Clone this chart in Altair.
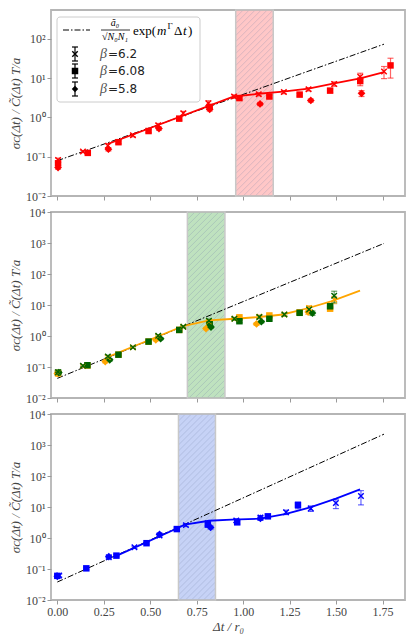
import altair as alt
import pandas as pd
import numpy as np

# ------------------------------------------------------------------ data
X_TICKS = [0.0, 0.25, 0.5, 0.75, 1.0, 1.25, 1.5, 1.75]
BETAS = ["β=6.2", "β=6.08", "β=5.8"]

# ---- panel 1 (red)
p1_b62_x = [0.004, 0.138, 0.272, 0.407, 0.543, 0.678, 0.813, 0.951, 1.084, 1.219, 1.352, 1.490, 1.630, 1.758]
p1_b62_y = [0.082, 0.135, 0.19, 0.35, 0.63, 1.27, 2.3, 3.4, 3.9, 4.4, 5.2, 7.1, 10.8, 14.7]
p1_b62_e = [0.01, 0.008, 0.025, 0.03, 0.07, 0.15, 0.35, 0.35, 0.35, 0.4, 0.5, 0.9, 2.5, 5.0]
p1_b608_x = [0.004, 0.164, 0.329, 0.491, 0.656, 0.820, 0.980, 1.141, 1.304, 1.468, 1.630, 1.793]
p1_b608_y = [0.068, 0.125, 0.234, 0.45, 0.93, 1.85, 3.1, 3.4, 3.8, 4.8, 8.4, 21.0]
p1_b608_e = [0.008, 0.01, 0.02, 0.04, 0.08, 0.2, 0.3, 0.3, 0.3, 0.5, 2.0, 11.0]
p1_b58_x = [0.004, 0.275, 0.547, 0.820, 1.091, 1.364, 1.637]
p1_b58_y = [0.053, 0.155, 0.52, 1.6, 2.2, 2.7, 4.1]
p1_b58_e = [0.005, 0.015, 0.05, 0.15, 0.2, 0.25, 0.7]
p1_fit_x = [0.272, 0.950, 1.084, 1.214, 1.352, 1.490, 1.630, 1.758]
p1_fit_y = [0.21, 3.4, 4.0, 4.5, 5.4, 7.3, 9.8, 14.2]
p1_exp_x = [0.0, 1.758]
p1_exp_y = [0.079, 73.0]
p1_band = [0.96, 1.162]

# ---- panel 2 (orange / green)
p2_b62_x = [0.004, 0.138, 0.272, 0.407, 0.543, 0.678, 0.816, 0.953, 1.087, 1.222, 1.355, 1.490]
p2_b62_yo = [0.067, 0.108, 0.21, 0.43, 1.0, 2.0, 3.0, 3.6, 4.2, 4.9, 8.0, 15.0]
p2_b62_eo = [0.006, 0.008, 0.02, 0.03, 0.08, 0.15, 0.4, 0.35, 0.5, 0.5, 1.5, 4.0]
p2_b62_yg = [0.068, 0.11, 0.22, 0.43, 1.02, 2.0, 3.1, 3.6, 4.1, 4.9, 7.2, 19.8]
p2_b62_eg = [0.006, 0.008, 0.02, 0.03, 0.08, 0.15, 0.4, 0.35, 0.5, 0.5, 1.5, 8.0]
p2_b608_x = [0.004, 0.162, 0.329, 0.491, 0.656, 0.820, 0.980, 1.141, 1.304, 1.468]
p2_b608_yo = [0.062, 0.112, 0.25, 0.66, 1.57, 2.6, 4.0, 4.6, 5.8, 7.6]
p2_b608_yg = [0.066, 0.114, 0.25, 0.66, 1.57, 2.4, 3.0, 3.6, 5.6, 9.1]
p2_b608_e = [0.005, 0.01, 0.02, 0.05, 0.12, 0.25, 0.3, 0.35, 0.5, 1.0]
p2_b58_xo = [0.000, 0.258, 0.530, 0.800, 1.072, 1.350]
p2_b58_yo = [0.062, 0.15, 0.75, 1.74, 2.45, 5.9]
p2_b58_xg = [0.008, 0.282, 0.556, 0.827, 1.098, 1.373]
p2_b58_yg = [0.066, 0.17, 0.82, 1.95, 2.9, 5.5]
p2_b58_e = [0.005, 0.015, 0.06, 0.15, 0.25, 0.9]
p2_fit_x = [0.271, 0.678, 0.816, 0.955, 1.087, 1.214, 1.352, 1.473, 1.629]
p2_fit_y = [0.21, 2.1, 3.2, 3.6, 4.1, 4.94, 8.0, 13.0, 29.0]
p2_exp_x = [0.0, 1.758]
p2_exp_y = [0.043, 970.0]
p2_band = [0.70, 0.902]

# ---- panel 3 (blue)
p3_b62_x = [0.010, 0.277, 0.415, 0.550, 0.692, 0.810, 0.963, 1.093, 1.231, 1.364, 1.499, 1.634]
p3_b62_y = [0.062, 0.24, 0.50, 1.2, 2.6, 3.0, 3.7, 4.6, 6.8, 9.0, 13.4, 22.7]
p3_b62_e = [0.006, 0.02, 0.04, 0.12, 0.25, 0.4, 0.5, 0.7, 1.1, 1.8, 4.5, 11.0]
p3_b608_x = [0.000, 0.156, 0.318, 0.480, 0.643, 0.810, 0.968, 1.133, 1.295]
p3_b608_y = [0.060, 0.105, 0.27, 0.68, 1.94, 2.7, 3.2, 5.0, 11.6]
p3_b608_e = [0.005, 0.01, 0.02, 0.05, 0.15, 0.35, 0.4, 0.5, 2.8]
p3_b58_x = [0.000, 0.277, 0.550, 0.825, 1.093]
p3_b58_y = [0.058, 0.25, 1.3, 2.2, 4.3]
p3_b58_e = [0.005, 0.02, 0.12, 0.25, 0.6]
p3_fit_x = [0.315, 0.643, 0.686, 0.816, 0.937, 1.093, 1.231, 1.361, 1.499, 1.629]
p3_fit_y = [0.26, 2.03, 2.7, 3.6, 3.9, 4.2, 6.0, 9.8, 18.7, 37.0]
p3_exp_x = [0.0, 1.758]
p3_exp_y = [0.038, 2240.0]
p3_band = [0.652, 0.851]

# ------------------------------------------------------------------ style
W, H = 354, 186
XDOM = [-0.034, 1.871]
SERIF = "Liberation Serif"
YTITLE = "σᴄ(Δt) / C̃(Δt) T/a"
XPATH = "M-1,-1L1,1M-1,1L1,-1"


def series(xs, ys, es, beta, col):
    return pd.DataFrame({
        "x": xs, "y": ys,
        "lo": [y - e for y, e in zip(ys, es)],
        "hi": [y + e for y, e in zip(ys, es)],
        "beta": beta, "col": col,
    })


def panel(pts, fit_x, fit_y, exp_x, exp_y, band, band_col, fit_col, ymax, bottom, legend=False):
    xs = alt.Scale(domain=XDOM, nice=False, zero=False)
    ys = alt.Scale(type="log", domain=[0.01, ymax], nice=False)
    ytick = [10.0 ** k for k in range(-2, int(np.floor(np.log10(ymax) + 1e-9)) + 1)]
    xax = alt.Axis(values=X_TICKS, format=".2f", labels=bottom, grid=False,
                   title="Δt / r₀" if bottom else None)
    yax = alt.Axis(values=ytick, grid=False, title=YTITLE,
                   labelExpr="'10' + ['⁻²','⁻¹','⁰','¹','²','³','⁴'][round(log(datum.value)/LN10)+2]")

    def X(f):
        return alt.X(f, type="quantitative", scale=xs, axis=xax)

    def Y(f):
        return alt.Y(f, type="quantitative", scale=ys, axis=yax)

    # band + hatching
    bdf = pd.DataFrame({"x0": [band[0]], "x1": [band[1]], "y0": [0.01], "y1": [ymax]})
    band_l = alt.Chart(bdf).mark_rect(color=band_col, opacity=0.3).encode(
        x=X("x0"), x2="x1", y=Y("y0"), y2="y1")
    edge_l = alt.Chart(bdf).mark_rect(fill=None, stroke="#c8c8c8", strokeWidth=1.5).encode(
        x=X("x0"), x2="x1", y=Y("y0"), y2="y1")
    ppx = W / (XDOM[1] - XDOM[0])
    ppd = H / (np.log10(ymax) + 2)
    rise = (band[1] - band[0]) * ppx / ppd
    starts = np.arange(-2 - rise, np.log10(ymax), 6.0 / ppd)
    hdf = pd.DataFrame({"hx0": band[0], "hx1": band[1],
                        "hy0": 10 ** starts, "hy1": 10 ** (starts + rise)})
    hatch_l = alt.Chart(hdf).mark_rule(clip=True, color="#7788aa", opacity=0.35, strokeWidth=0.8).encode(
        x=X("hx0"), x2="hx1", y=Y("hy0"), y2="hy1")

    edf = pd.DataFrame({"x": exp_x, "y": exp_y})
    exp_l = alt.Chart(edf).mark_line(color="black", strokeWidth=1, strokeDash=[6, 2, 1.5, 2]).encode(
        x=X("x"), y=Y("y"))
    fdf = pd.DataFrame({"x": fit_x, "y": fit_y})
    fit_l = alt.Chart(fdf).mark_line(color=fit_col, strokeWidth=1.8).encode(x=X("x"), y=Y("y"))

    col = alt.Color("col:N", scale=None)
    base = alt.Chart(pts)
    err_l = base.mark_rule(strokeWidth=1.2, opacity=0.6).encode(x=X("x"), y=Y("lo"), y2="hi", color=col)
    cap_lo = base.mark_tick(orient="horizontal", size=6, thickness=1.2, opacity=0.6).encode(
        x=X("x"), y=Y("lo"), color=col)
    cap_hi = base.mark_tick(orient="horizontal", size=6, thickness=1.2, opacity=0.6).encode(
        x=X("x"), y=Y("hi"), color=col)
    pt_x = base.transform_filter(alt.datum.beta == BETAS[0]).mark_point(
        shape=XPATH, filled=False, size=30, strokeWidth=1.4, opacity=1).encode(x=X("x"), y=Y("y"), color=col)
    pt_s = base.transform_filter(alt.datum.beta == BETAS[1]).mark_point(
        shape="square", filled=True, size=42, opacity=1).encode(x=X("x"), y=Y("y"), color=col)
    pt_d = base.transform_filter(alt.datum.beta == BETAS[2]).mark_point(
        shape="diamond", filled=True, size=60, opacity=1).encode(x=X("x"), y=Y("y"), color=col)

    layers = [band_l, hatch_l, edge_l, exp_l, fit_l, err_l, cap_lo, cap_hi, pt_s, pt_d, pt_x]

    if legend:
        d = pd.DataFrame({"a": [0]})
        L = alt.Chart(d)
        layers += [
            L.mark_rect(cornerRadius=3, fill="white", fillOpacity=0.85, stroke="#cccccc", strokeWidth=1).encode(
                x=alt.value(6), x2=alt.value(149), y=alt.value(7), y2=alt.value(92)),
            L.mark_rule(color="black", strokeWidth=1, strokeDash=[6, 2, 1.5, 2]).encode(
                x=alt.value(12), x2=alt.value(39), y=alt.value(20)),
            L.mark_text(text="ã₀", font=SERIF, fontStyle="italic", fontSize=10, baseline="middle").encode(
                x=alt.value(64), y=alt.value(13)),
            L.mark_rule(color="black", strokeWidth=0.8).encode(
                x=alt.value(50), x2=alt.value(79), y=alt.value(20)),
            L.mark_text(text="√N₀N₁", font=SERIF, fontStyle="italic", fontSize=10, baseline="middle").encode(
                x=alt.value(64), y=alt.value(27)),
            L.mark_text(text="exp(", font=SERIF, fontSize=13, align="left", baseline="middle").encode(
                x=alt.value(82), y=alt.value(21)),
            L.mark_text(text="m", font=SERIF, fontStyle="italic", fontSize=13, align="left",
                        baseline="middle").encode(x=alt.value(106), y=alt.value(21)),
            L.mark_text(text="Γ", font=SERIF, fontSize=9, align="left", baseline="middle").encode(
                x=alt.value(116.5), y=alt.value(16)),
            L.mark_text(text="Δ", font=SERIF, fontSize=13, align="left", baseline="middle").encode(
                x=alt.value(123), y=alt.value(21)),
            L.mark_text(text="t", font=SERIF, fontStyle="italic", fontSize=13, align="left",
                        baseline="middle").encode(x=alt.value(132), y=alt.value(21)),
            L.mark_text(text=")", font=SERIF, fontSize=13, align="left", baseline="middle").encode(
                x=alt.value(137), y=alt.value(21)),
        ]
        rows = [(44, XPATH, False, "=6.2"), (61, "square", True, "=6.08"), (79, "diamond", True, "=5.8")]
        for yy, shp, fl, lab in rows:
            layers += [
                L.mark_rule(color="black", strokeWidth=1.2).encode(
                    x=alt.value(24), y=alt.value(yy - 7), y2=alt.value(yy + 7)),
                L.mark_rule(color="black", strokeWidth=1.2).encode(
                    x=alt.value(21), x2=alt.value(27), y=alt.value(yy - 7)),
                L.mark_rule(color="black", strokeWidth=1.2).encode(
                    x=alt.value(21), x2=alt.value(27), y=alt.value(yy + 7)),
                L.mark_point(shape=shp, filled=fl, color="black", size=30 if not fl else 42,
                             strokeWidth=1.4, opacity=1).encode(x=alt.value(24), y=alt.value(yy)),
                L.mark_text(text="β", font=SERIF, fontStyle="italic", fontSize=14, align="left",
                            baseline="middle", color="#555").encode(x=alt.value(49), y=alt.value(yy)),
                L.mark_text(text=lab, font="DejaVu Sans", fontSize=12, align="left",
                            baseline="middle", color="#222").encode(x=alt.value(57), y=alt.value(yy)),
            ]

    return alt.layer(*layers).properties(width=W, height=H)


red = "#ff0000"
orng = "#ffa500"
grn = "#006400"
blu = "#0000ff"

pts1 = pd.concat([
    series(p1_b62_x, p1_b62_y, p1_b62_e, BETAS[0], red),
    series(p1_b608_x, p1_b608_y, p1_b608_e, BETAS[1], red),
    series(p1_b58_x, p1_b58_y, p1_b58_e, BETAS[2], red),
], ignore_index=True)
pts2 = pd.concat([
    series(p2_b62_x, p2_b62_yo, p2_b62_eo, BETAS[0], orng),
    series(p2_b608_x, p2_b608_yo, p2_b608_e, BETAS[1], orng),
    series(p2_b58_xo, p2_b58_yo, p2_b58_e, BETAS[2], orng),
    series(p2_b62_x, p2_b62_yg, p2_b62_eg, BETAS[0], grn),
    series(p2_b608_x, p2_b608_yg, p2_b608_e, BETAS[1], grn),
    series(p2_b58_xg, p2_b58_yg, p2_b58_e, BETAS[2], grn),
], ignore_index=True)
pts3 = pd.concat([
    series(p3_b62_x, p3_b62_y, p3_b62_e, BETAS[0], blu),
    series(p3_b608_x, p3_b608_y, p3_b608_e, BETAS[1], blu),
    series(p3_b58_x, p3_b58_y, p3_b58_e, BETAS[2], blu),
], ignore_index=True)

c1 = panel(pts1, p1_fit_x, p1_fit_y, p1_exp_x, p1_exp_y, p1_band, "#ff4444", red, 540.0, False, legend=True)
c2 = panel(pts2, p2_fit_x, p2_fit_y, p2_exp_x, p2_exp_y, p2_band, "#2ca02c", orng, 1e4, False)
c3 = panel(pts3, p3_fit_x, p3_fit_y, p3_exp_x, p3_exp_y, p3_band, "#4169e1", blu, 1e4, True)

chart = alt.vconcat(c1, c2, c3, spacing=16, bounds="flush").properties(
    padding={"left": 0, "top": 0, "right": 0, "bottom": 0}
).configure_view(
    stroke="#b5b5b5", strokeWidth=1.8
).configure_axis(
    domain=False, tickColor="#9a9a9a", tickSize=4, tickWidth=1,
    labelFont=SERIF, labelFontSize=12, labelColor="#444", labelPadding=2,
    titleFont=SERIF, titleFontSize=13, titleColor="#444", titleFontWeight="normal",
    titleFontStyle="italic", titlePadding=3,
)

chart.save("out.html", embed_options={"renderer": "svg", "actions": False})
